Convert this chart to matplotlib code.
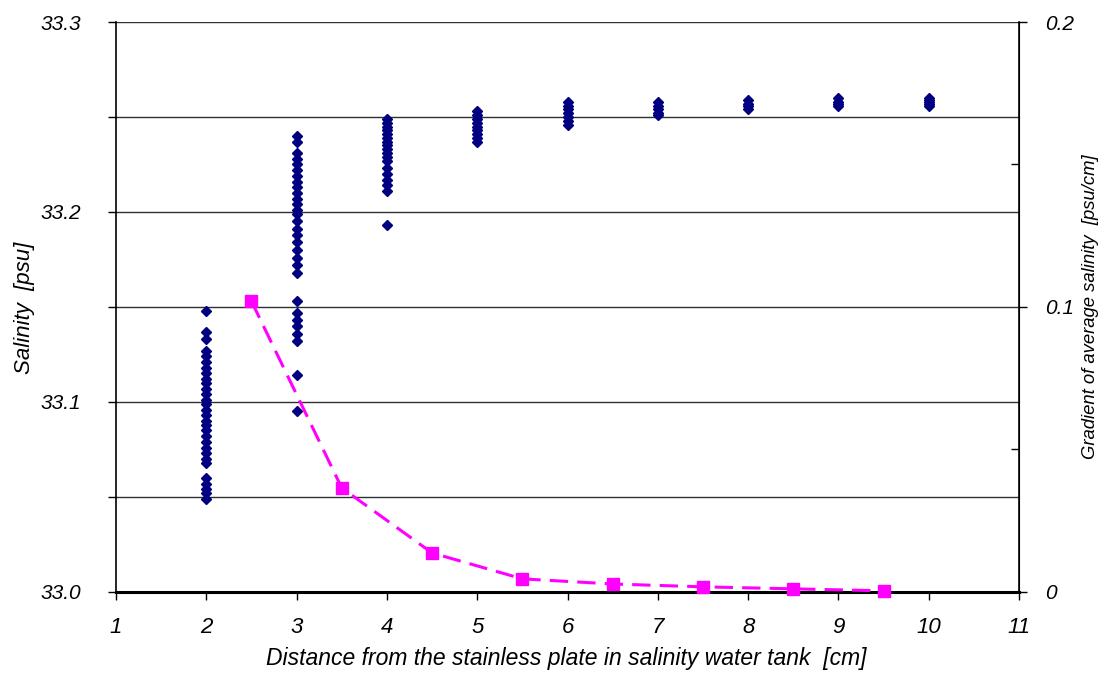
import matplotlib
matplotlib.use("Agg")
import matplotlib.pyplot as plt
from matplotlib import font_manager
from matplotlib.ticker import FixedLocator

# salinity readings at each distance [psu]
x2 = [33.148, 33.137, 33.133, 33.127, 33.124, 33.121, 33.118, 33.115, 33.112, 33.110,
      33.107, 33.104, 33.101, 33.099, 33.096, 33.093, 33.090, 33.088, 33.085, 33.082,
      33.079, 33.076, 33.073, 33.070, 33.068, 33.060, 33.057, 33.054, 33.052, 33.049]
x3 = [33.240, 33.237, 33.231, 33.228, 33.225, 33.222, 33.219, 33.216, 33.213, 33.210,
      33.207, 33.204, 33.201, 33.199, 33.195, 33.191, 33.188, 33.184, 33.180, 33.176,
      33.172, 33.168, 33.153, 33.147, 33.143, 33.140, 33.136, 33.132, 33.114, 33.095]
x4 = [33.249, 33.247, 33.245, 33.243, 33.241, 33.239, 33.237, 33.235, 33.233, 33.231,
      33.229, 33.227, 33.223, 33.220, 33.217, 33.214, 33.211, 33.193]
x5 = [33.253, 33.251, 33.249, 33.247, 33.245, 33.243, 33.241, 33.239, 33.237]
x6 = [33.258, 33.256, 33.254, 33.252, 33.250, 33.248, 33.246]
x7 = [33.258, 33.256, 33.254, 33.252, 33.251]
x8 = [33.259, 33.257, 33.256, 33.254]
x9 = [33.260, 33.258, 33.257, 33.256]
x10 = [33.260, 33.259, 33.258, 33.257, 33.256]
salinity = {2: x2, 3: x3, 4: x4, 5: x5, 6: x6, 7: x7, 8: x8, 9: x9, 10: x10}

# gradient of the average salinity between neighbouring distances [psu/cm]
grad_x = [2.5, 3.5, 4.5, 5.5, 6.5, 7.5, 8.5, 9.5]
grad_y = [0.102, 0.0365, 0.0137, 0.0046, 0.0028, 0.0018, 0.0011, 0.0004]

x_ticks = list(range(1, 12))

names = {f.name for f in font_manager.fontManager.ttflist}
base = "Liberation Sans" if "Liberation Sans" in names else "DejaVu Sans"

fig = plt.figure(figsize=(11.02, 6.73), dpi=100)
ax = fig.add_axes([0.1053, 0.1204, 0.8194, 0.8469])
ax2 = ax.twinx()

for d, vals in salinity.items():
    ax.plot([d] * len(vals), vals, linestyle="none", marker="D", ms=5,
            color="#000080", mec="#000080", zorder=3)

ax2.plot(grad_x, grad_y, color="#FF00FF", lw=2.2, dashes=(6, 3),
         marker="s", ms=8, mfc="#FF00FF", mec="#FF00FF", clip_on=False, zorder=4)

ax.set_xlim(1, 11)
ax.set_ylim(33.0, 33.3)
ax2.set_ylim(0, 0.2)

ax.set_xticks(x_ticks)
ax.set_yticks([33.0, 33.05, 33.1, 33.15, 33.2, 33.25, 33.3])
ax.set_yticklabels(["33.0", "", "33.1", "", "33.2", "", "33.3"])
ax.set_axisbelow(True)
ax.yaxis.grid(True, color="#303030", lw=1.0)

ax2.set_yticks([0, 0.1, 0.2])
ax2.set_yticklabels(["0", "0.1", "0.2"])
ax2.yaxis.set_minor_locator(FixedLocator([0.05, 0.15]))

for a in (ax, ax2):
    a.spines["top"].set_visible(False)
ax.spines["left"].set_linewidth(1.2)
ax2.spines["right"].set_linewidth(1.2)
ax.spines["bottom"].set_linewidth(2.2)
ax2.spines["bottom"].set_visible(False)
ax2.spines["left"].set_visible(False)

ax.tick_params(axis="y", direction="out", length=6, width=1, pad=19)
ax.tick_params(axis="x", direction="out", length=6, width=1, pad=12)
ax2.tick_params(axis="y", which="major", direction="out", length=6, width=1, pad=13)
ax2.tick_params(axis="y", which="minor", direction="in", length=6, width=1)

for lab in ax.get_yticklabels() + ax2.get_yticklabels():
    lab.set_fontfamily(base)
    lab.set_fontstyle("italic")
    lab.set_fontsize(15)
for lab in ax.get_xticklabels():
    lab.set_fontfamily(base)
    lab.set_fontstyle("italic")
    lab.set_fontsize(16)

fig.text(0.022, 0.542, "Salinity  [psu]", rotation=90, ha="center", va="center",
         family=base, style="italic", fontsize=16)
fig.text(0.99, 0.545, "Gradient of average salinity  [psu/cm]", rotation=90,
         ha="center", va="center", family=base, style="italic", fontsize=13.3)
fig.text(0.514, 0.004, "Distance from the stainless plate in salinity water tank  [cm]",
         ha="center", va="bottom", family=base, style="italic", fontsize=16.5)

fig.savefig("out.png", dpi=100)
